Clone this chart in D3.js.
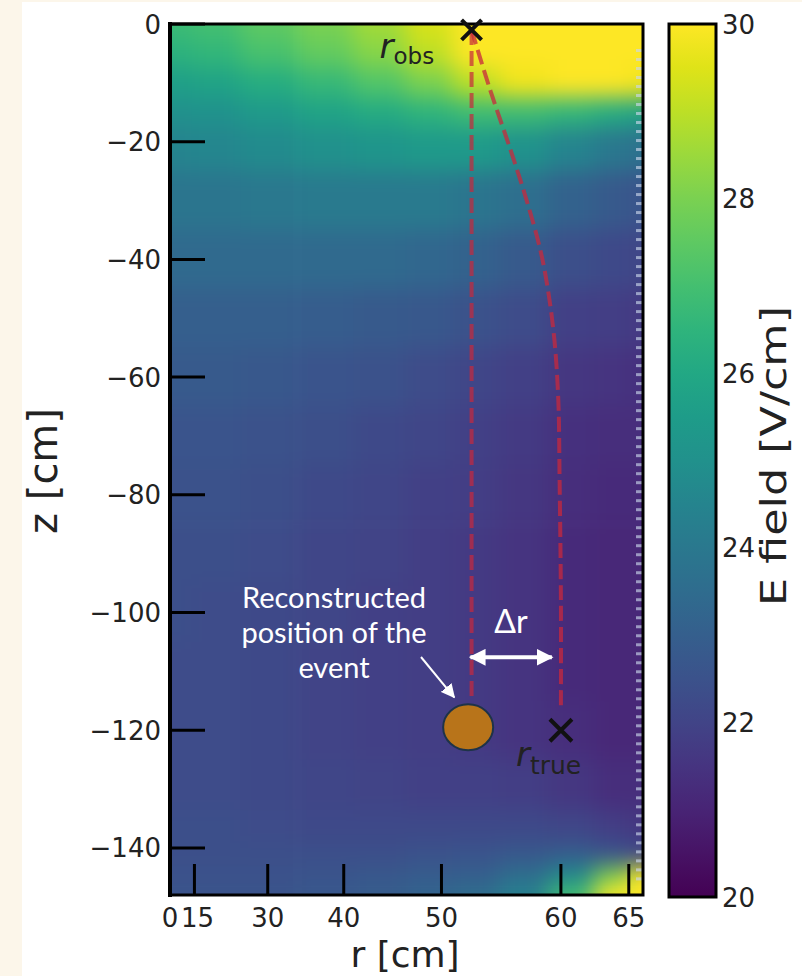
<!DOCTYPE html>
<html>
<head>
<meta charset="utf-8">
<script src="https://cdn.jsdelivr.net/npm/d3@7"></script>
<style>
  body { margin: 0; background: #fff; }
  svg { display: block; }
</style>
</head>
<body>
<div id="chart"></div>
<script>
// ---- data ----
// field map grid: r columns (cm), z rows (cm), E field (V/cm)
const rCols = [0, 20, 30, 38, 44, 49, 53, 57, 61, 64, 66];
const zRows = [0, -5, -10, -15, -20, -30, -40, -50, -60, -70, -80, -90, -100, -110, -120, -130, -137, -141, -145, -148];
const eField = [
  [26.8, 27.0, 27.5, 28.0, 28.6, 29.4, 30.5, 31.0, 31.0, 31.0, 31.0],
  [26.4, 26.6, 27.1, 27.6, 28.2, 29.0, 30.2, 31.0, 31.0, 31.0, 31.0],
  [25.6, 25.8, 26.2, 26.7, 27.3, 28.0, 29.0, 29.8, 30.2, 30.2, 29.8],
  [25.0, 25.1, 25.4, 25.8, 26.1, 26.5, 26.9, 26.9, 26.6, 26.2, 25.8],
  [24.5, 24.6, 24.8, 25.0, 25.2, 25.4, 25.4, 25.1, 24.5, 24.0, 23.7],
  [23.9, 23.9, 24.0, 24.1, 24.1, 24.1, 23.9, 23.6, 23.1, 22.8, 22.6],
  [23.4, 23.4, 23.4, 23.4, 23.4, 23.3, 23.1, 22.8, 22.4, 22.2, 22.1],
  [23.0, 23.0, 23.0, 22.9, 22.8, 22.7, 22.5, 22.3, 21.9, 21.8, 21.7],
  [22.8, 22.8, 22.7, 22.6, 22.5, 22.3, 22.1, 21.9, 21.6, 21.5, 21.4],
  [22.6, 22.6, 22.5, 22.4, 22.2, 22.1, 21.9, 21.7, 21.4, 21.3, 21.3],
  [22.5, 22.5, 22.4, 22.2, 22.1, 21.9, 21.8, 21.6, 21.3, 21.2, 21.2],
  [22.4, 22.4, 22.3, 22.1, 22.0, 21.8, 21.7, 21.5, 21.2, 21.1, 21.1],
  [22.4, 22.3, 22.2, 22.1, 21.9, 21.8, 21.7, 21.5, 21.2, 21.1, 21.1],
  [22.3, 22.3, 22.2, 22.0, 21.9, 21.8, 21.7, 21.5, 21.2, 21.1, 21.1],
  [22.3, 22.3, 22.2, 22.0, 21.9, 21.8, 21.7, 21.5, 21.3, 21.1, 21.1],
  [22.3, 22.3, 22.2, 22.1, 22.0, 21.9, 21.9, 21.8, 21.6, 21.3, 21.3],
  [22.4, 22.4, 22.3, 22.2, 22.2, 22.2, 22.2, 22.2, 22.1, 21.8, 21.6],
  [22.4, 22.4, 22.4, 22.4, 22.4, 22.5, 22.6, 22.7, 22.9, 22.6, 22.2],
  [22.5, 22.5, 22.5, 22.6, 22.7, 22.9, 23.0, 23.6, 24.8, 28.0, 30.5],
  [22.6, 22.6, 22.6, 22.7, 22.9, 23.2, 23.6, 24.4, 27.0, 31.0, 31.0]
];

// drift path from r_obs down to r_true
const driftR = [52.7, 54.3, 56.0, 57.3, 58.4, 59.0, 59.5, 59.8, 59.9, 60.0, 60.0];
const driftZ = [-1.0, -11.2, -21.4, -29.9, -38.4, -45.2, -53.7, -63.9, -77.5, -97.9, -116.6];
const obsPoint = { r: 52.7, z: -1 };
const truePoint = { r: 60, z: -120 };
const recoPoint = { r: 52.4, z: -119.5 };
const straightZ = [-1, -115];

const xTicks = [0, 15, 30, 40, 50, 60, 65];
const yTicks = [0, -20, -40, -60, -80, -100, -120, -140];
const cbTicks = [20, 22, 24, 26, 28, 30];

const W = 802, H = 976;

const svg = d3.select("#chart").append("svg")
  .attr("width", W).attr("height", H);

// page background (cream strip on the left / top)
svg.append("rect").attr("width", W).attr("height", H).attr("fill", "#fcf6ea");
svg.append("rect").attr("x", 22).attr("y", 2).attr("width", W - 22).attr("height", H - 2).attr("fill", "#ffffff");

const x = d3.scalePow().exponent(2).domain([0, 66]).range([170, 643]);
const y = d3.scaleLinear().domain([0, -148]).range([24, 895]);
const color = d3.scaleSequential(d3.interpolateViridis).domain([20, 30]).clamp(true);

const defs = svg.append("defs");
defs.append("clipPath").attr("id", "frameClip")
  .append("rect").attr("x", 170).attr("y", 24).attr("width", 473).attr("height", 871);

defs.append("filter").attr("id", "soft")
  .attr("filterUnits", "userSpaceOnUse")
  .attr("x", 0).attr("y", 0).attr("width", W).attr("height", H)
  .attr("color-interpolation-filters", "sRGB")
  .append("feGaussianBlur").attr("stdDeviation", 11);

// ---- heat map ----
const xc = rCols.map(d => x(d));
const yc = zRows.map(d => y(d));
const pad = 45;
const xEdge = i => i < 0 ? xc[0] - pad : (i >= xc.length - 1 ? xc[xc.length - 1] + pad : (xc[i] + xc[i + 1]) / 2);
const yEdge = j => j < 0 ? yc[0] - pad : (j >= yc.length - 1 ? yc[yc.length - 1] + pad : (yc[j] + yc[j + 1]) / 2);

const cells = [];
eField.forEach((row, j) => row.forEach((v, i) => cells.push({ i, j, v })));

const heat = svg.append("g").attr("clip-path", "url(#frameClip)")
  .append("g").attr("filter", "url(#soft)");
heat.selectAll("rect").data(cells).join("rect")
  .attr("x", d => xEdge(d.i - 1))
  .attr("y", d => yEdge(d.j - 1))
  .attr("width", d => xEdge(d.i) - xEdge(d.i - 1) + 0.5)
  .attr("height", d => yEdge(d.j) - yEdge(d.j - 1) + 0.5)
  .attr("fill", d => color(d.v));

// field cage rings along the outer wall
const ringZ = d3.range(-4.5, -146, -1.53);
svg.append("g").selectAll("rect").data(ringZ).join("rect")
  .attr("x", x(66) - 7).attr("y", d => y(d) - 1.5)
  .attr("width", 6).attr("height", 3)
  .attr("fill", "#c9d6ea").attr("opacity", 0.65);

// frame
svg.append("rect").attr("x", 170).attr("y", 24).attr("width", 473).attr("height", 871)
  .attr("fill", "none").attr("stroke", "#000").attr("stroke-width", 3);
svg.append("line").attr("x1", 170).attr("x2", 170).attr("y1", 22).attr("y2", 897)
  .attr("stroke", "#000").attr("stroke-width", 4);

// ticks (pointing inwards)
svg.append("g").selectAll("line").data(yTicks).join("line")
  .attr("x1", 170).attr("x2", 205)
  .attr("y1", d => y(d)).attr("y2", d => y(d))
  .attr("stroke", "#000").attr("stroke-width", 3);
svg.append("g").selectAll("line").data(xTicks).join("line")
  .attr("x1", d => x(d)).attr("x2", d => x(d))
  .attr("y1", 895).attr("y2", 864)
  .attr("stroke", "#000").attr("stroke-width", 3);

const tickFont = "'DejaVu Sans', sans-serif";
svg.append("g").selectAll("text").data(yTicks).join("text")
  .attr("x", 161).attr("y", d => y(d) + 9.5)
  .attr("text-anchor", "end")
  .style("font-family", tickFont).style("font-size", "26px").attr("fill", "#222")
  .text(d => String(d).replace("-", "\u2212"));
svg.append("g").selectAll("text").data(xTicks).join("text")
  .attr("x", d => x(d)).attr("y", 927)
  .attr("text-anchor", "middle")
  .attr("dx", d => d === 15 ? 3 : 0)
  .style("font-family", tickFont).style("font-size", "26px").attr("fill", "#222")
  .text(d => d);

svg.append("text")
  .attr("x", 405).attr("y", 967).attr("text-anchor", "middle")
  .style("font-family", tickFont).style("font-size", "36px").attr("fill", "#222")
  .text("r [cm]");
svg.append("text")
  .attr("transform", "translate(57,471) rotate(-90)").attr("text-anchor", "middle")
  .style("font-family", tickFont).style("font-size", "40px").attr("fill", "#222")
  .text("z [cm]");

// ---- colorbar ----
const cb = d3.scaleLinear().domain([20, 30]).range([897, 24]);
const grad = defs.append("linearGradient").attr("id", "cbGrad")
  .attr("x1", 0).attr("y1", 1).attr("x2", 0).attr("y2", 0);
grad.selectAll("stop").data(d3.range(0, 1.0001, 0.05)).join("stop")
  .attr("offset", d => d).attr("stop-color", d => d3.interpolateViridis(d));
svg.append("rect").attr("x", 669).attr("y", cb(30)).attr("width", 47).attr("height", cb(20) - cb(30))
  .attr("fill", "url(#cbGrad)").attr("stroke", "#000").attr("stroke-width", 3);
svg.append("g").selectAll("text").data(cbTicks).join("text")
  .attr("x", 722).attr("y", d => cb(d) + 9.5)
  .style("font-family", tickFont).style("font-size", "26px").attr("fill", "#222")
  .text(d => d);
svg.append("text")
  .attr("transform", "translate(786,456) rotate(-90)").attr("text-anchor", "middle")
  .attr("textLength", 300).attr("lengthAdjust", "spacingAndGlyphs")
  .style("font-family", tickFont).style("font-size", "35px").attr("fill", "#222")
  .text("E field [V/cm]");

// ---- drift lines ----
const line = d3.line().x(d => x(d[0])).y(d => y(d[1]));
svg.append("path")
  .datum(straightZ.map(z => [obsPoint.r, z]))
  .attr("d", line)
  .attr("fill", "none").attr("stroke", "#c8283c").attr("stroke-opacity", 0.7)
  .attr("stroke-width", 4).attr("stroke-dasharray", "15,6");
svg.append("path")
  .datum(driftR.map((r, i) => [r, driftZ[i]]))
  .attr("d", line.curve(d3.curveCatmullRom))
  .attr("fill", "none").attr("stroke", "#c8283c").attr("stroke-opacity", 0.75)
  .attr("stroke-width", 4).attr("stroke-dasharray", "15,6");

// markers
function cross(p, s) {
  const cx = x(p.r), cy = y(p.z);
  svg.append("path")
    .attr("d", `M${cx - s},${cy - s}L${cx + s},${cy + s}M${cx - s},${cy + s}L${cx + s},${cy - s}`)
    .attr("stroke", "#111").attr("stroke-width", 4);
}
cross(obsPoint, 10);
cross(truePoint, 11);

const mathFont = "'DejaVu Sans', sans-serif";
const lblObs = svg.append("text")
  .attr("x", x(obsPoint.r) - 92).attr("y", y(obsPoint.z) + 28)
  .style("font-family", mathFont).attr("fill", "#222");
lblObs.append("tspan").style("font-style", "italic").style("font-size", "34px").text("r");
lblObs.append("tspan").style("font-size", "23px").attr("dy", 6).text("obs");

const lblTrue = svg.append("text")
  .attr("x", x(truePoint.r) - 45).attr("y", y(truePoint.z) + 36)
  .style("font-family", mathFont).attr("fill", "#222");
lblTrue.append("tspan").style("font-style", "italic").style("font-size", "34px").text("r");
lblTrue.append("tspan").style("font-size", "25px").attr("dy", 8).text("true");

// ---- annotations ----
defs.append("marker").attr("id", "ah")
  .attr("viewBox", "0 0 10 10").attr("refX", 9).attr("refY", 5)
  .attr("markerWidth", 4.2).attr("markerHeight", 4.2)
  .attr("markerUnits", "strokeWidth").attr("orient", "auto-start-reverse")
  .append("path").attr("d", "M0,0L10,5L0,10Z").attr("fill", "#fff");
defs.append("marker").attr("id", "ah2")
  .attr("viewBox", "0 0 10 10").attr("refX", 9).attr("refY", 5)
  .attr("markerWidth", 7).attr("markerHeight", 7)
  .attr("markerUnits", "strokeWidth").attr("orient", "auto-start-reverse")
  .append("path").attr("d", "M0,0L10,5L0,10Z").attr("fill", "#fff");

svg.append("ellipse")
  .attr("cx", x(recoPoint.r)).attr("cy", y(recoPoint.z))
  .attr("rx", 25).attr("ry", 23)
  .attr("fill", "#b8741a").attr("stroke", "#1e3348").attr("stroke-width", 2);

const annFont = "Lato, 'Open Sans', sans-serif";
const ann = svg.append("text")
  .attr("text-anchor", "middle").attr("fill", "#fff")
  .style("font-family", annFont).style("font-size", "29px");
["Reconstructed", "position of the", "event"].forEach((t, i) => {
  ann.append("tspan").attr("x", 334).attr("y", 608 + i * 35).text(t);
});

svg.append("line")
  .attr("x1", 421).attr("y1", 657)
  .attr("x2", x(recoPoint.r) - 14).attr("y2", y(recoPoint.z) - 30)
  .attr("stroke", "#fff").attr("stroke-width", 2)
  .attr("marker-end", "url(#ah2)");

svg.append("line")
  .attr("x1", x(52.6)).attr("x2", x(59.3))
  .attr("y1", y(-107.6)).attr("y2", y(-107.6))
  .attr("stroke", "#fff").attr("stroke-width", 4)
  .attr("marker-start", "url(#ah)").attr("marker-end", "url(#ah)");

svg.append("text")
  .attr("x", 511).attr("y", 633).attr("text-anchor", "middle")
  .attr("fill", "#fff")
  .style("font-family", annFont).style("font-size", "32px")
  .text("\u0394r");
</script>
</body>
</html>
